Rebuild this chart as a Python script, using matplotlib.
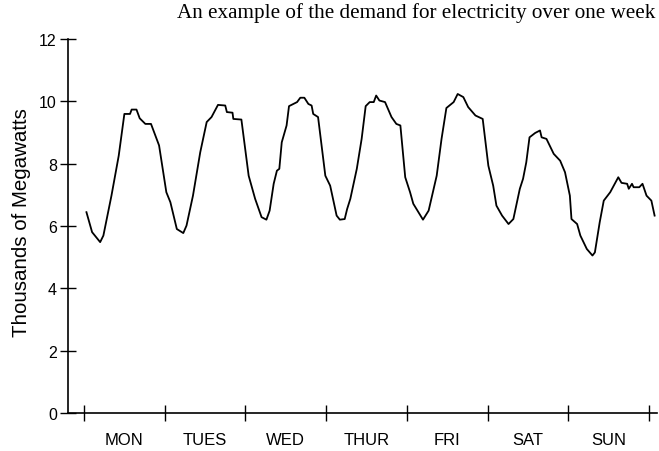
import matplotlib
matplotlib.use('Agg')
import matplotlib.pyplot as plt
from matplotlib.ticker import FixedLocator

# ── Data: electricity demand over one week (days since Monday 00:00) ──
day = [0.03, 0.10, 0.20, 0.24, 0.34, 0.43, 0.50, 0.57, 0.59, 0.65, 0.69, 0.76,
       0.83, 0.93, 1.02, 1.07, 1.15, 1.23, 1.27, 1.35, 1.44, 1.52, 1.58, 1.66,
       1.75, 1.77, 1.84, 1.85, 1.95, 2.04, 2.12, 2.20, 2.26, 2.30, 2.35, 2.39,
       2.42, 2.45, 2.51, 2.54, 2.64, 2.68, 2.73, 2.78, 2.82, 2.84, 2.90, 2.99,
       3.05, 3.13, 3.17, 3.23, 3.26, 3.30, 3.38, 3.44, 3.49, 3.54, 3.59, 3.62,
       3.66, 3.73, 3.81, 3.87, 3.92, 3.98, 4.04, 4.08, 4.20, 4.27, 4.37, 4.43,
       4.49, 4.58, 4.63, 4.70, 4.76, 4.85, 4.94, 5.01, 5.07, 5.11, 5.18, 5.26,
       5.32, 5.40, 5.44, 5.48, 5.52, 5.59, 5.65, 5.67, 5.73, 5.82, 5.90, 5.96,
       6.02, 6.04, 6.11, 6.15, 6.23, 6.30, 6.33, 6.39, 6.44, 6.52, 6.62, 6.66,
       6.73, 6.75, 6.79, 6.81, 6.88, 6.92, 6.97, 7.03, 7.07]
demand = [6.44, 5.80, 5.48, 5.69, 6.97, 8.25, 9.59, 9.59, 9.73, 9.73, 9.45, 9.27,
          9.27, 8.58, 7.08, 6.76, 5.90, 5.77, 6.01, 6.97, 8.36, 9.33, 9.49, 9.88,
          9.86, 9.65, 9.63, 9.43, 9.41, 7.61, 6.87, 6.28, 6.20, 6.49, 7.35, 7.77,
          7.83, 8.68, 9.22, 9.84, 9.97, 10.11, 10.11, 9.91, 9.86, 9.59, 9.49, 7.61,
          7.29, 6.33, 6.20, 6.22, 6.54, 6.87, 7.83, 8.79, 9.84, 9.97, 9.97, 10.18,
          10.02, 9.97, 9.49, 9.27, 9.22, 7.56, 7.08, 6.71, 6.20, 6.49, 7.61, 8.79,
          9.78, 9.97, 10.23, 10.13, 9.81, 9.54, 9.43, 7.93, 7.29, 6.65, 6.33, 6.06,
          6.22, 7.19, 7.51, 8.04, 8.84, 8.98, 9.06, 8.84, 8.79, 8.31, 8.09, 7.72,
          6.97, 6.22, 6.06, 5.69, 5.26, 5.05, 5.15, 6.12, 6.81, 7.08, 7.56, 7.38,
          7.35, 7.19, 7.35, 7.24, 7.24, 7.35, 6.97, 6.81, 6.33]

day_names = ['MON', 'TUES', 'WED', 'THUR', 'FRI', 'SAT', 'SUN']
day_bounds = list(range(8))
y_ticks = [0, 2, 4, 6, 8, 10, 12]

sans = 'Liberation Sans'
serif = 'Liberation Serif'

fig = plt.figure(figsize=(6.59, 4.52), dpi=100)
fig.patch.set_facecolor('white')
ax = fig.add_axes([0.103, 0.084, 0.894, 0.828])

ax.plot(day, demand, color='black', linewidth=1.3)

ax.set_xlim(-0.2, 7.1)
ax.set_ylim(0, 12)

for side in ('top', 'right'):
    ax.spines[side].set_visible(False)
for side in ('left', 'bottom'):
    ax.spines[side].set_linewidth(1.2)
    ax.spines[side].set_color('black')

# day boundaries as crossing ticks, day names centred between them
ax.xaxis.set_major_locator(FixedLocator(day_bounds))
ax.xaxis.set_minor_locator(FixedLocator([d + 0.5 for d in day_bounds[:-1]]))
ax.set_xticklabels([], minor=False)
ax.set_xticklabels(day_names, minor=True, fontsize=12, family=sans)
ax.tick_params(axis='x', which='major', direction='inout', length=11, width=1)
ax.tick_params(axis='x', which='minor', length=0, pad=14)

ax.set_yticks(y_ticks)
ax.set_yticklabels([str(v) for v in y_ticks], fontsize=11.5, family=sans)
ax.tick_params(axis='y', direction='inout', length=12, width=1, pad=2)

ax.set_ylabel('Thousands of Megawatts', fontsize=14.8, family=sans)
ax.yaxis.set_label_coords(-0.063, 0.511)

fig.text(0.994, 0.972, 'An example of the demand for electricity over one week',
         ha='right', va='center', fontsize=15.2, family=serif)

fig.savefig('out.png', dpi=100, facecolor='white')
